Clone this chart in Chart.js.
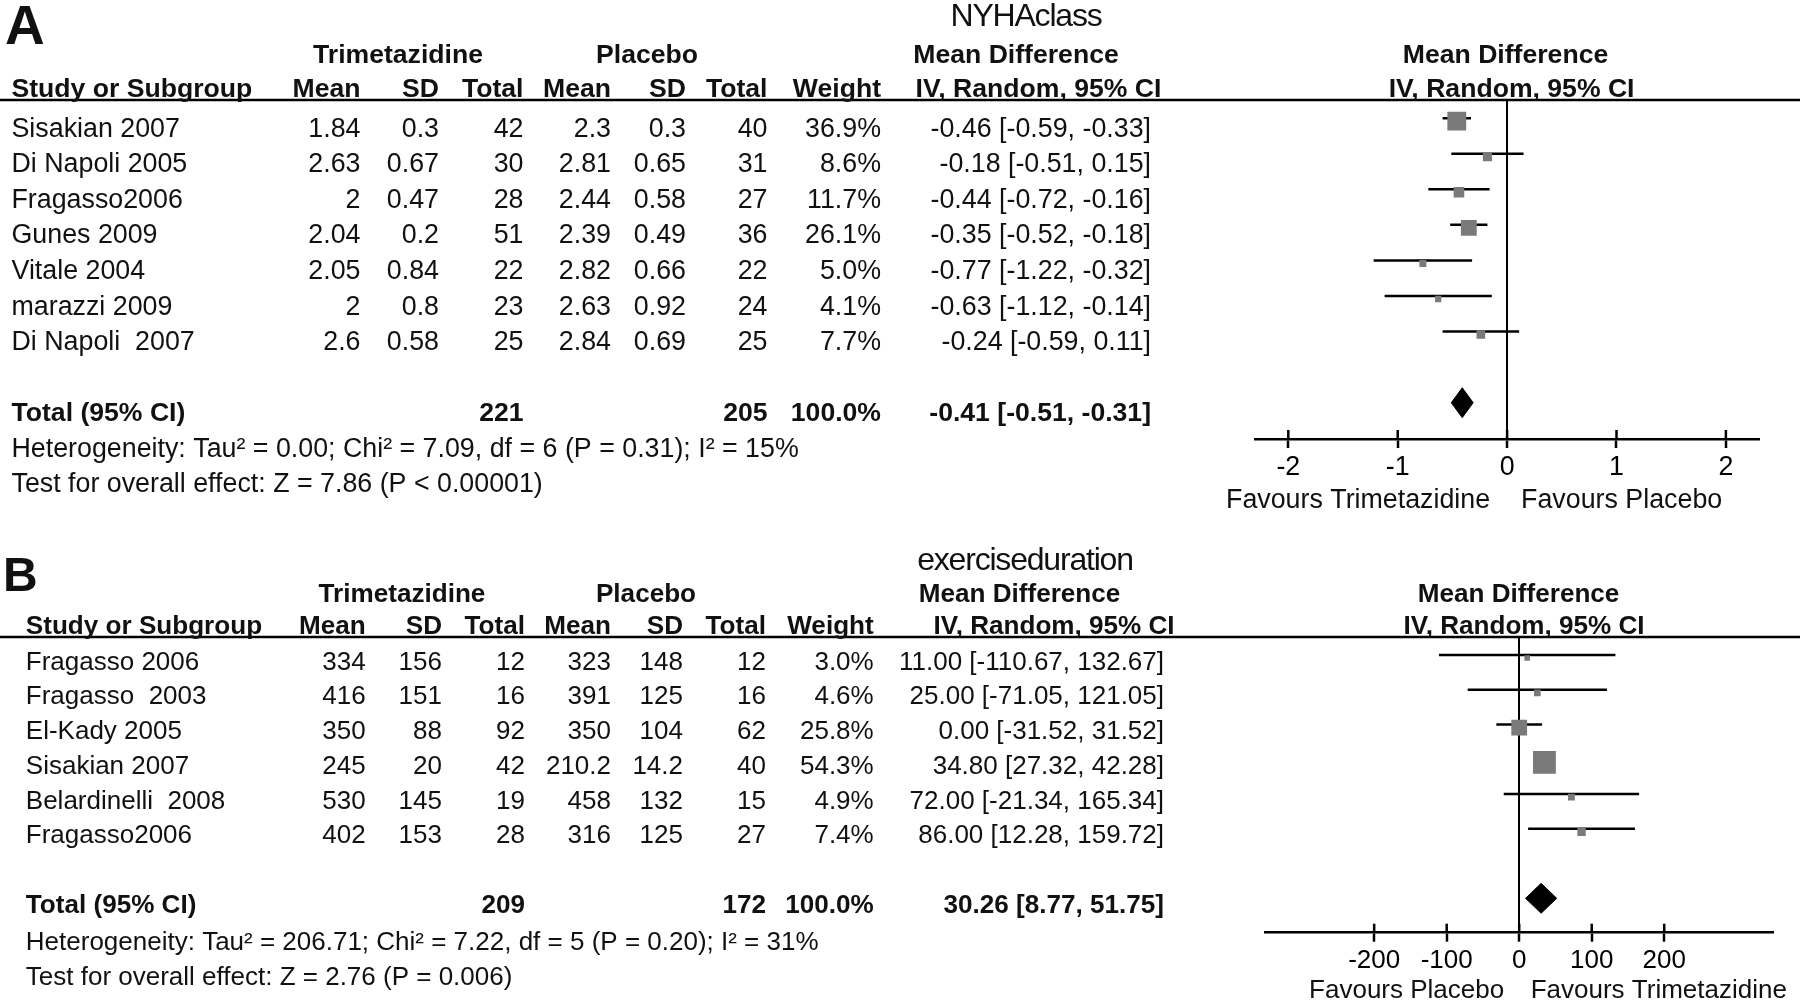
<!DOCTYPE html>
<html lang="en">
<head>
<meta charset="utf-8">
<title>Trimetazidine vs placebo - forest plots</title>
<script src="https://cdn.jsdelivr.net/npm/chart.js@4.4.1/dist/chart.umd.min.js"></script>
<style>
  html, body { margin: 0; background: #fff; }
  body { position: relative; width: 1800px; height: 1003px; overflow: hidden; }
  canvas { position: absolute; left: 0; }
  #chartA { top: 0; }
  #chartB { top: 520px; }
</style>
</head>
<body>
<canvas id="chartA" width="1800" height="520"></canvas>
<canvas id="chartB" width="1800" height="483"></canvas>
<script>
// ---- Panel A: NYHA class ----
const studiesA = ['Sisakian 2007', 'Di Napoli 2005', 'Fragasso2006', 'Gunes 2009', 'Vitale 2004', 'marazzi 2009', 'Di Napoli  2007'];
const trtMeanA = [1.84, 2.63, 2, 2.04, 2.05, 2, 2.6];
const trtSdA = [0.3, 0.67, 0.47, 0.2, 0.84, 0.8, 0.58];
const trtNA = [42, 30, 28, 51, 22, 23, 25];
const plMeanA = [2.3, 2.81, 2.44, 2.39, 2.82, 2.63, 2.84];
const plSdA = [0.3, 0.65, 0.58, 0.49, 0.66, 0.92, 0.69];
const plNA = [40, 31, 27, 36, 22, 24, 25];
const weightA = [36.9, 8.6, 11.7, 26.1, 5.0, 4.1, 7.7];
const mdA = [-0.46, -0.18, -0.44, -0.35, -0.77, -0.63, -0.24];
const loA = [-0.59, -0.51, -0.72, -0.52, -1.22, -1.12, -0.59];
const hiA = [-0.33, 0.15, -0.16, -0.18, -0.32, -0.14, 0.11];
const totalsA = [221, 205, 100];          // trimetazidine N, placebo N, weight %
const pooledA = [-0.41, -0.51, -0.31];    // estimate, lower, upper
const hetA = 'Heterogeneity: Tau\u00b2 = 0.00; Chi\u00b2 = 7.09, df = 6 (P = 0.31); I\u00b2 = 15%';
const testA = 'Test for overall effect: Z = 7.86 (P < 0.00001)';
const ticksA = [-2, -1, 0, 1, 2];
const tickLabelsA = ['-2', '-1', '0', '1', '2'];
const favoursA = ['Favours Trimetazidine', 'Favours Placebo'];

// ---- Panel B: exercise duration ----
const studiesB = ['Fragasso 2006', 'Fragasso  2003', 'El-Kady 2005', 'Sisakian 2007', 'Belardinelli  2008', 'Fragasso2006'];
const trtMeanB = [334, 416, 350, 245, 530, 402];
const trtSdB = [156, 151, 88, 20, 145, 153];
const trtNB = [12, 16, 92, 42, 19, 28];
const plMeanB = [323, 391, 350, 210.2, 458, 316];
const plSdB = [148, 125, 104, 14.2, 132, 125];
const plNB = [12, 16, 62, 40, 15, 27];
const weightB = [3.0, 4.6, 25.8, 54.3, 4.9, 7.4];
const mdB = [11.00, 25.00, 0.00, 34.80, 72.00, 86.00];
const loB = [-110.67, -71.05, -31.52, 27.32, -21.34, 12.28];
const hiB = [132.67, 121.05, 31.52, 42.28, 165.34, 159.72];
const totalsB = [209, 172, 100];
const pooledB = [30.26, 8.77, 51.75];
const hetB = 'Heterogeneity: Tau\u00b2 = 206.71; Chi\u00b2 = 7.22, df = 5 (P = 0.20); I\u00b2 = 31%';
const testB = 'Test for overall effect: Z = 2.76 (P = 0.006)';
const ticksB = [-200, -100, 0, 100, 200];
const tickLabelsB = ['-200', '-100', '0', '100', '200'];
const favoursB = ['Favours Placebo', 'Favours Trimetazidine'];

const colHeads = ['Mean', 'SD', 'Total', 'Mean', 'SD', 'Total', 'Weight'];

const FONT = '"Liberation Sans", Arial, Helvetica, sans-serif';
const INK = '#111';
const SQUARE_GREY = '#7a7a7a';

Chart.defaults.font.family = FONT;

const ciText = (m, l, h) => `${m.toFixed(2)} [${l.toFixed(2)}, ${h.toFixed(2)}]`;

function text(ctx, str, x, y, align, weight, size) {
  ctx.font = `${weight} ${size}px ${FONT}`;
  ctx.textAlign = align;
  ctx.textBaseline = 'alphabetic';
  ctx.fillText(str, x, y);
}

// draws the study table, headers and the bits of the axis Chart.js has no option for
function tablePlugin(p, L) {
  const REG = L.reg, BOLD = L.bold;
  return {
    id: 'forestTable',
    beforeDatasetDraw(chart, args) {
      const ds = chart.data.datasets[args.index];
      if (ds.shiftY) {
        chart.ctx.save();
        chart.ctx.translate(0, ds.shiftY);
      }
    },
    afterDatasetDraw(chart, args) {
      if (chart.data.datasets[args.index].shiftY) chart.ctx.restore();
    },
    afterDraw(chart) {
      const ctx = chart.ctx;
      const area = chart.chartArea;
      const ys = chart.scales.y;
      const xs = chart.scales.x;
      const rowY = r => ys.getPixelForValue(r) + L.textDrop;
      ctx.save();

      // header rule across the whole width
      ctx.fillStyle = '#000';
      ctx.fillRect(0, area.top - 1.25, chart.width, 2.5);
      // upper halves of the cross ticks
      xs.ticks.forEach(t => {
        const px = xs.getPixelForValue(t.value);
        ctx.fillRect(px - 1.25, area.bottom - 9, 2.5, 9);
      });

      ctx.fillStyle = INK;
      text(ctx, L.letter, L.letterX, L.letterY, 'left', 'bold', L.letterSize);
      ctx.letterSpacing = '-1.2px';
      text(ctx, L.title, L.titleX, L.titleY, 'center', 'normal', 32);
      ctx.letterSpacing = '0px';

      text(ctx, 'Trimetazidine', L.trtX, L.grpY, 'center', 'bold', BOLD);
      text(ctx, 'Placebo', L.plX, L.grpY, 'center', 'bold', BOLD);
      text(ctx, 'Mean Difference', L.mdHeadX, L.grpY, 'center', 'bold', BOLD);
      text(ctx, 'Mean Difference', L.mdHeadX2, L.grpY, 'center', 'bold', BOLD);
      text(ctx, 'Study or Subgroup', L.nameX, L.headY, 'left', 'bold', BOLD);
      colHeads.forEach((h, c) => text(ctx, h, L.cols[c], L.headY, 'right', 'bold', BOLD));
      text(ctx, 'IV, Random, 95% CI', L.ivHeadX, L.headY, 'center', 'bold', BOLD);
      text(ctx, 'IV, Random, 95% CI', L.ivHeadX2, L.headY, 'center', 'bold', BOLD);

      p.studies.forEach((s, i) => {
        const y = rowY(i);
        text(ctx, s, L.nameX, y, 'left', 'normal', REG);
        const cells = [p.trtMean[i], p.trtSd[i], p.trtN[i], p.plMean[i], p.plSd[i], p.plN[i]];
        cells.forEach((v, c) => text(ctx, String(v), L.cols[c], y, 'right', 'normal', REG));
        text(ctx, p.weight[i].toFixed(1) + '%', L.cols[6], y, 'right', 'normal', REG);
        text(ctx, ciText(p.md[i], p.lo[i], p.hi[i]), L.ciX, y, 'right', 'normal', REG);
      });

      const ty = rowY(p.studies.length + 1);
      text(ctx, 'Total (95% CI)', L.nameX, ty, 'left', 'bold', BOLD);
      text(ctx, String(p.totals[0]), L.cols[2], ty, 'right', 'bold', BOLD);
      text(ctx, String(p.totals[1]), L.cols[5], ty, 'right', 'bold', BOLD);
      text(ctx, p.totals[2].toFixed(1) + '%', L.cols[6], ty, 'right', 'bold', BOLD);
      text(ctx, ciText(p.pooled[0], p.pooled[1], p.pooled[2]), L.ciX, ty, 'right', 'bold', BOLD);
      text(ctx, p.het, L.nameX, rowY(L.hetRow), 'left', 'normal', REG);
      text(ctx, p.test, L.nameX, rowY(L.testRow), 'left', 'normal', REG);

      const zero = xs.getPixelForValue(0);
      text(ctx, p.favours[0], zero - L.favGapL, L.favY, 'right', 'normal', REG);
      text(ctx, p.favours[1], zero + L.favGapR, L.favY, 'left', 'normal', REG);
      ctx.restore();
    }
  };
}

function forestPanel(canvasId, p, L) {
  const totalRow = p.studies.length + 1;
  const [est, plo, phi] = p.pooled;
  const datasets = [];
  datasets.push({
    type: 'scatter', order: 0, shiftY: 3,
    data: p.md.map((v, i) => ({ x: v, y: i })),
    pointStyle: 'rect',
    pointRadius: p.weight.map(w => Math.max(5.5, 3.1 * Math.sqrt(w)) / (2 * Math.SQRT1_2)),
    pointBackgroundColor: SQUARE_GREY,
    pointBorderWidth: 0,
  });
  p.lo.forEach((lo, i) => datasets.push({
    type: 'scatter', order: 1, showLine: true,
    data: [{ x: lo, y: i }, { x: p.hi[i], y: i }],
    borderColor: '#000', borderWidth: 2.5, pointRadius: 0,
  }));
  datasets.push({
    type: 'line', order: 0,
    data: [
      { x: plo, y: totalRow },
      { x: est, y: totalRow - L.diamondHalf },
      { x: phi, y: totalRow },
      { x: est, y: totalRow + L.diamondHalf },
      { x: plo, y: totalRow },
    ],
    borderColor: '#000', borderWidth: 1, backgroundColor: '#000',
    fill: 'shape', pointRadius: 0, tension: 0,
  });

  return new Chart(document.getElementById(canvasId), {
    type: 'scatter',
    data: { datasets },
    options: {
      responsive: false,
      animation: false,
      events: [],
      layout: { padding: { left: L.plotLeft, right: 1800 - L.plotRight, top: L.plotTop, bottom: 0 } },
      plugins: { legend: { display: false }, tooltip: { enabled: false } },
      scales: {
        x: {
          type: 'linear', min: -L.xMax, max: L.xMax,
          afterFit: s => { s.height = L.height - L.axisY; },
          afterBuildTicks: s => { s.ticks = p.ticks.map(v => ({ value: v })); },
          border: { display: true, color: '#000', width: 2.5 },
          grid: {
            drawOnChartArea: true,
            color: c => (c.tick && c.tick.value === 0 ? '#000' : 'rgba(0,0,0,0)'),
            lineWidth: 2,
            drawTicks: true, tickLength: 9, tickWidth: 2.5, tickColor: '#000',
          },
          ticks: {
            color: '#000', padding: 4, maxRotation: 0, autoSkip: false,
            font: { size: L.reg, family: FONT },
            callback: (v, i) => p.tickLabels[i],
          },
        },
        y: { type: 'linear', display: false, reverse: true, min: L.rowMin, max: L.rowMax },
      },
    },
    plugins: [tablePlugin(p, L)],
  });
}

forestPanel('chartA', {
  studies: studiesA, trtMean: trtMeanA, trtSd: trtSdA, trtN: trtNA,
  plMean: plMeanA, plSd: plSdA, plN: plNA, weight: weightA,
  md: mdA, lo: loA, hi: hiA, totals: totalsA, pooled: pooledA,
  het: hetA, test: testA, ticks: ticksA, tickLabels: tickLabelsA, favours: favoursA,
}, {
  height: 520, plotLeft: 1255.5, plotRight: 1758.7, plotTop: 100, axisY: 439, xMax: 2.3,
  rowMin: -0.51, rowMax: 9.02, textDrop: 18.5, diamondHalf: 0.42,
  reg: 26.8, bold: 26.6,
  nameX: 11.5, cols: [360.5, 439, 523.5, 611, 686, 767.5, 881], ciX: 1151,
  letter: 'A', letterX: 5, letterY: 44, letterSize: 55,
  title: 'NYHAclass', titleX: 1026, titleY: 26,
  grpY: 63, headY: 97, trtX: 398, plX: 647,
  mdHeadX: 1016, ivHeadX: 1038.5, mdHeadX2: 1505.5, ivHeadX2: 1511.6,
  hetRow: 9.01, testRow: 10.0, favY: 508, favGapL: 17, favGapR: 14,
});

forestPanel('chartB', {
  studies: studiesB, trtMean: trtMeanB, trtSd: trtSdB, trtN: trtNB,
  plMean: plMeanB, plSd: plSdB, plN: plNB, weight: weightB,
  md: mdB, lo: loB, hi: hiB, totals: totalsB, pooled: pooledB,
  het: hetB, test: testB, ticks: ticksB, tickLabels: tickLabelsB, favours: favoursB,
}, {
  height: 483, plotLeft: 1265.4, plotRight: 1773, plotTop: 117, axisY: 412.7, xMax: 350,
  rowMin: -0.52, rowMax: 7.99, textDrop: 14.5, diamondHalf: 0.43,
  reg: 26, bold: 26.1,
  nameX: 25.8, cols: [365.7, 442, 525, 611, 683, 766, 873.7], ciX: 1164,
  letter: 'B', letterX: 3, letterY: 71, letterSize: 48,
  title: 'exerciseduration', titleX: 1025, titleY: 50,
  grpY: 82, headY: 114, trtX: 402, plX: 646,
  mdHeadX: 1019.5, ivHeadX: 1054, mdHeadX2: 1518.6, ivHeadX2: 1524,
  hetRow: 8.07, testRow: 9.08, favY: 478, favGapL: 15, favGapR: 11.5,
});
</script>
</body>
</html>
